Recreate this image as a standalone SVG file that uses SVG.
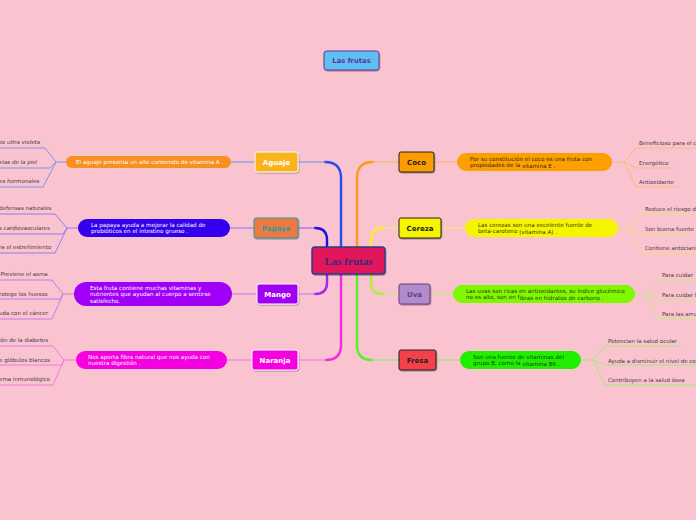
<svg xmlns="http://www.w3.org/2000/svg" width="696" height="520" viewBox="0 0 696 520">
<defs>
<filter id="sh" x="-20%" y="-20%" width="140%" height="150%"><feDropShadow dx="0.6" dy="1" stdDeviation="0.6" flood-color="#000" flood-opacity="0.35"/></filter>
<style>
.bg{fill:#f9c4cf}
.node text{font-family:"DejaVu Sans",Verdana,sans-serif;font-weight:bold;font-size:7px;text-anchor:middle}
.bub{font-family:"DejaVu Sans",Verdana,sans-serif;font-size:5.6px}
.leaf{font-family:"DejaVu Sans",Verdana,sans-serif;font-size:5.5px;fill:#4a3a40}
.it{font-style:italic}
.c{fill:none;stroke-linecap:round;stroke-linejoin:round}
.thk{stroke-width:2.4}
.thn{stroke-width:1.1}
.lf{fill:none;stroke-width:0.9}
</style>
</defs>
<rect class="bg" x="0" y="0" width="696" height="520"/>

<g id="connectors">
<path class="c thk" stroke="#2a4af2" d="M341,250 V178 Q341,162 325,162"/>
<path class="c thn" stroke="#6f8cf2" d="M325,162 H298"/>
<path class="c thk" stroke="#1a10e0" d="M327,250 V240 Q327,228 315,228"/>
<path class="c thn" stroke="#7a60f0" d="M315,228 H298"/>
<path class="c thk" stroke="#a824f0" d="M327,271 V283 Q327,294 315,294"/>
<path class="c thn" stroke="#c070f2" d="M315,294 H298"/>
<path class="c thk" stroke="#f22ae2" d="M341,271 V345 Q341,360 326,360"/>
<path class="c thn" stroke="#f070ee" d="M326,360 H298"/>
<path class="c thk" stroke="#ff9a1e" d="M357,250 V178 Q357,162 373,162"/>
<path class="c thn" stroke="#f8b060" d="M373,162 H399"/>
<path class="c thk" stroke="#f6f02a" d="M371,250 V240 Q371,228 383,228"/>
<path class="c thn" stroke="#f0ee60" d="M383,228 H399"/>
<path class="c thk" stroke="#b0f03a" d="M371,271 V283 Q371,294 383,294"/>
<path class="c thn" stroke="#b8f070" d="M383,294 H399"/>
<path class="c thk" stroke="#58f028" d="M357,271 V345 Q357,360 372,360"/>
<path class="c thn" stroke="#80f060" d="M372,360 H399"/>
<path class="c thn" stroke="#6f8cf2" d="M255,162 H231"/>
<path class="c thn" stroke="#8a70f0" d="M254,228 H230"/>
<path class="c thn" stroke="#c070f2" d="M257,294 H232"/>
<path class="c thn" stroke="#f070e6" d="M252,360 H227"/>
<path class="c thn" stroke="#f8b060" d="M434,162 H457"/>
<path class="c thn" stroke="#f0ee60" d="M441,228 H465"/>
<path class="c thn" stroke="#b8f070" d="M430,294 H453"/>
<path class="c thn" stroke="#80f060" d="M436,360 H460"/>
<g stroke="#7090f0" class="lf">
<path d="M67,162 H56 L45,148 H0 M56,162 L50,168 H0 M56,162 L43,187 H0"/>
</g>
<g stroke="#9070f0" class="lf">
<path d="M78,228 H67 L55,214 H0 M67,228 L63,234 H0 M67,228 L55,253 H0"/>
</g>
<g stroke="#c070f0" class="lf">
<path d="M74,294 H63 L52,280 H0 M63,294 L60,299 H0 M63,294 L52,319 H0"/>
</g>
<g stroke="#f070e0" class="lf">
<path d="M76,360 H64 L53,346 H0 M64,360 L62,365 H0 M64,360 L53,385 H0"/>
</g>
<g stroke="#f8b870" class="lf">
<path d="M612,162 H624 L636,148 H696 M624,162 L636,168 H673 M624,162 L636,187 H679"/>
</g>
<g stroke="#f0e070" class="lf">
<path d="M618,228 H629 L641,214 H696 M629,228 L641,234 H696 M629,228 L641,253 H696"/>
</g>
<g stroke="#c0f070" class="lf">
<path d="M635,294 H647 L659,281 H696 M647,294 L659,300 H696 M647,294 L659,319 H696"/>
</g>
<g stroke="#90f070" class="lf">
<path d="M581,360 H593 L605,346 H682 M593,360 L605,365 H696 M593,360 L605,385 H696"/>
</g>
</g>

<g id="title" class="node">
<rect x="324" y="51" width="55" height="19" rx="2.5" fill="#5cc0f0" stroke="#6a2ea0" stroke-width="1" filter="url(#sh)"/>
<text x="351.5" y="63.2" fill="#6a2aa0" style="font-size:6.8px">Las frutas</text>
</g>

<g id="center">
<rect x="312" y="247" width="73" height="27" rx="3" fill="#e2195c" stroke="#2a3a8a" stroke-width="1.4" filter="url(#sh)"/>
<text x="348.5" y="264.5" font-family="Liberation Serif,serif" font-weight="bold" font-size="11" fill="#3a2a7a" text-anchor="middle">Las frutas</text>
</g>

<g id="aguaje" class="node">
<rect x="255" y="152" width="43" height="20" rx="2" fill="#f9b41a" stroke="#fff" stroke-width="1" filter="url(#sh)"/>
<text x="276.5" y="164.5" fill="#fff">Aguaje</text>
</g>
<g id="papaya" class="node">
<rect x="254" y="218" width="44" height="20" rx="2" fill="#f07840" stroke="#1aa0a0" stroke-width="1" filter="url(#sh)"/>
<text x="276" y="230.5" fill="#1aa0a0">Papaya</text>
</g>
<g id="mango" class="node">
<rect x="257" y="284" width="41" height="20" rx="2" fill="#a000f0" stroke="#fff" stroke-width="1" filter="url(#sh)"/>
<text x="277.5" y="296.5" fill="#fff">Mango</text>
</g>
<g id="naranja" class="node">
<rect x="252" y="350" width="46" height="20" rx="2" fill="#f500e0" stroke="#fff" stroke-width="1" filter="url(#sh)"/>
<text x="275" y="362.5" fill="#fff">Naranja</text>
</g>

<g id="coco" class="node">
<rect x="399" y="152" width="35" height="20" rx="2" fill="#fb9d00" stroke="#222" stroke-width="1" filter="url(#sh)"/>
<text x="416.5" y="164.5" fill="#222">Coco</text>
</g>
<g id="cereza" class="node">
<rect x="399" y="218" width="42" height="20" rx="2" fill="#f5f500" stroke="#222" stroke-width="1" filter="url(#sh)"/>
<text x="420" y="230.5" fill="#222">Cereza</text>
</g>
<g id="uva" class="node">
<rect x="399" y="284" width="31" height="20" rx="2" fill="#b08cc8" stroke="#6a3a8a" stroke-width="1" filter="url(#sh)"/>
<text x="414.5" y="296.5" fill="#6a3a8a">Uva</text>
</g>
<g id="fresa" class="node">
<rect x="399" y="350" width="37" height="20" rx="2" fill="#f5404a" stroke="#222" stroke-width="1" filter="url(#sh)"/>
<text x="417.5" y="362.5" fill="#222">Fresa</text>
</g>

<g id="b-aguaje">
<rect x="66" y="156" width="165" height="12" rx="6" fill="#f7901e"/>
<text class="bub" x="76" y="164" fill="#fff">El aguaje presenta un alto contenido de vitamina A .</text>
</g>
<g id="b-papaya">
<rect x="78" y="219" width="152" height="18" rx="9" fill="#3300ee"/>
<text class="bub" fill="#fff"><tspan x="91" y="226.5">La papaya ayuda a mejorar la calidad de</tspan><tspan x="91" y="233.2">probióticos en el intestino grueso .</tspan></text>
</g>
<g id="b-mango">
<rect x="74" y="282" width="158" height="24" rx="12" fill="#a000f5"/>
<text class="bub" fill="#fff"><tspan x="90" y="289.5">Esta fruta contiene muchas vitaminas y</tspan><tspan x="90" y="296.2">nutrientes que ayudan al cuerpo a sentirse</tspan><tspan x="90" y="302.9">satisfecho.</tspan></text>
</g>
<g id="b-naranja">
<rect x="76" y="351" width="151" height="18" rx="9" fill="#f500e0"/>
<text class="bub" fill="#fff"><tspan x="88" y="358.5">Nos aporta fibra natural que nos ayuda con</tspan><tspan x="88" y="365.2">nuestra digestión .</tspan></text>
</g>

<g id="b-coco">
<rect x="457" y="153" width="155" height="18" rx="9" fill="#fba000"/>
<text class="bub" fill="#3a2a10"><tspan x="470" y="160.5">Por su constitución el coco es una fruta con</tspan><tspan x="470" y="167">propiedades de la </tspan><tspan y="168">vitamina E .</tspan></text>
</g>
<g id="b-cereza">
<rect x="465" y="219" width="153" height="18" rx="9" fill="#f5f500"/>
<text class="bub" fill="#3a3a10"><tspan x="478" y="226.5">Las cerezas son una excelente fuente de</tspan><tspan x="478" y="233">beta-caroteno </tspan><tspan y="233.6">(vitamina A) .</tspan></text>
</g>
<g id="b-uva">
<rect x="453" y="285" width="182" height="18" rx="9" fill="#80f800"/>
<text class="bub" fill="#2a3a10"><tspan x="466" y="292.5">Las uvas son ricas en antioxidantes, su índice glucémico</tspan><tspan x="466" y="299">no es alto, son en f</tspan><tspan y="299.6">ibras en hidratos de carbono .</tspan></text>
</g>
<g id="b-fresa">
<rect x="460" y="351" width="121" height="18" rx="9" fill="#20f000"/>
<text class="bub" fill="#1a3a10"><tspan x="473" y="358.5">Son una fuente de vitaminas del</tspan><tspan x="473" y="365">grupo B, como la </tspan><tspan y="365.6">vitamina B6 .</tspan></text>
</g>

<g id="l-aguaje" class="leaf it">
<text x="-1" y="144">os ultra violeta</text>
<text x="-1" y="164">elas de la piel</text>
<text x="-1" y="183">es hormonales</text>
</g>
<g id="l-papaya" class="leaf">
<text x="-1" y="210">defensas naturales</text>
<text x="-1" y="229.5">s cardiovasculares</text>
<text x="-1" y="249">ra el estreñimiento</text>
</g>
<g id="l-mango" class="leaf">
<text x="0.5" y="276">Previene el asma</text>
<text x="-1" y="295.5">rotege los huesos</text>
<text x="-1" y="315">uda con el cáncer</text>
</g>
<g id="l-naranja" class="leaf">
<text x="-1" y="342">ión de la diabetes</text>
<text x="-1" y="361.5">e glóbulos blancos</text>
<text x="-1" y="381">ema inmunológico</text>
</g>

<g id="l-coco" class="leaf">
<text x="639" y="145">Beneficioso para el c</text>
<text x="639" y="164.5">Energético</text>
<text x="639" y="184">Antioxidante</text>
</g>
<g id="l-cereza" class="leaf">
<text x="645" y="211">Reduce el riesgo d</text>
<text x="645" y="230.5">Son buena fuente</text>
<text x="645" y="250">Contiene antociani</text>
</g>
<g id="l-uva" class="leaf">
<text x="662" y="277">Para cuidar </text>
<text x="662" y="296.5">Para cuidar l</text>
<text x="662" y="316">Para las arru</text>
</g>
<g id="l-fresa" class="leaf">
<text x="608" y="343">Potencian la salud ocular</text>
<text x="608" y="362.5">Ayuda a disminuir el nivel de co</text>
<text x="608" y="382">Contribuyen a la salud ósea</text>
</g>
</svg>
